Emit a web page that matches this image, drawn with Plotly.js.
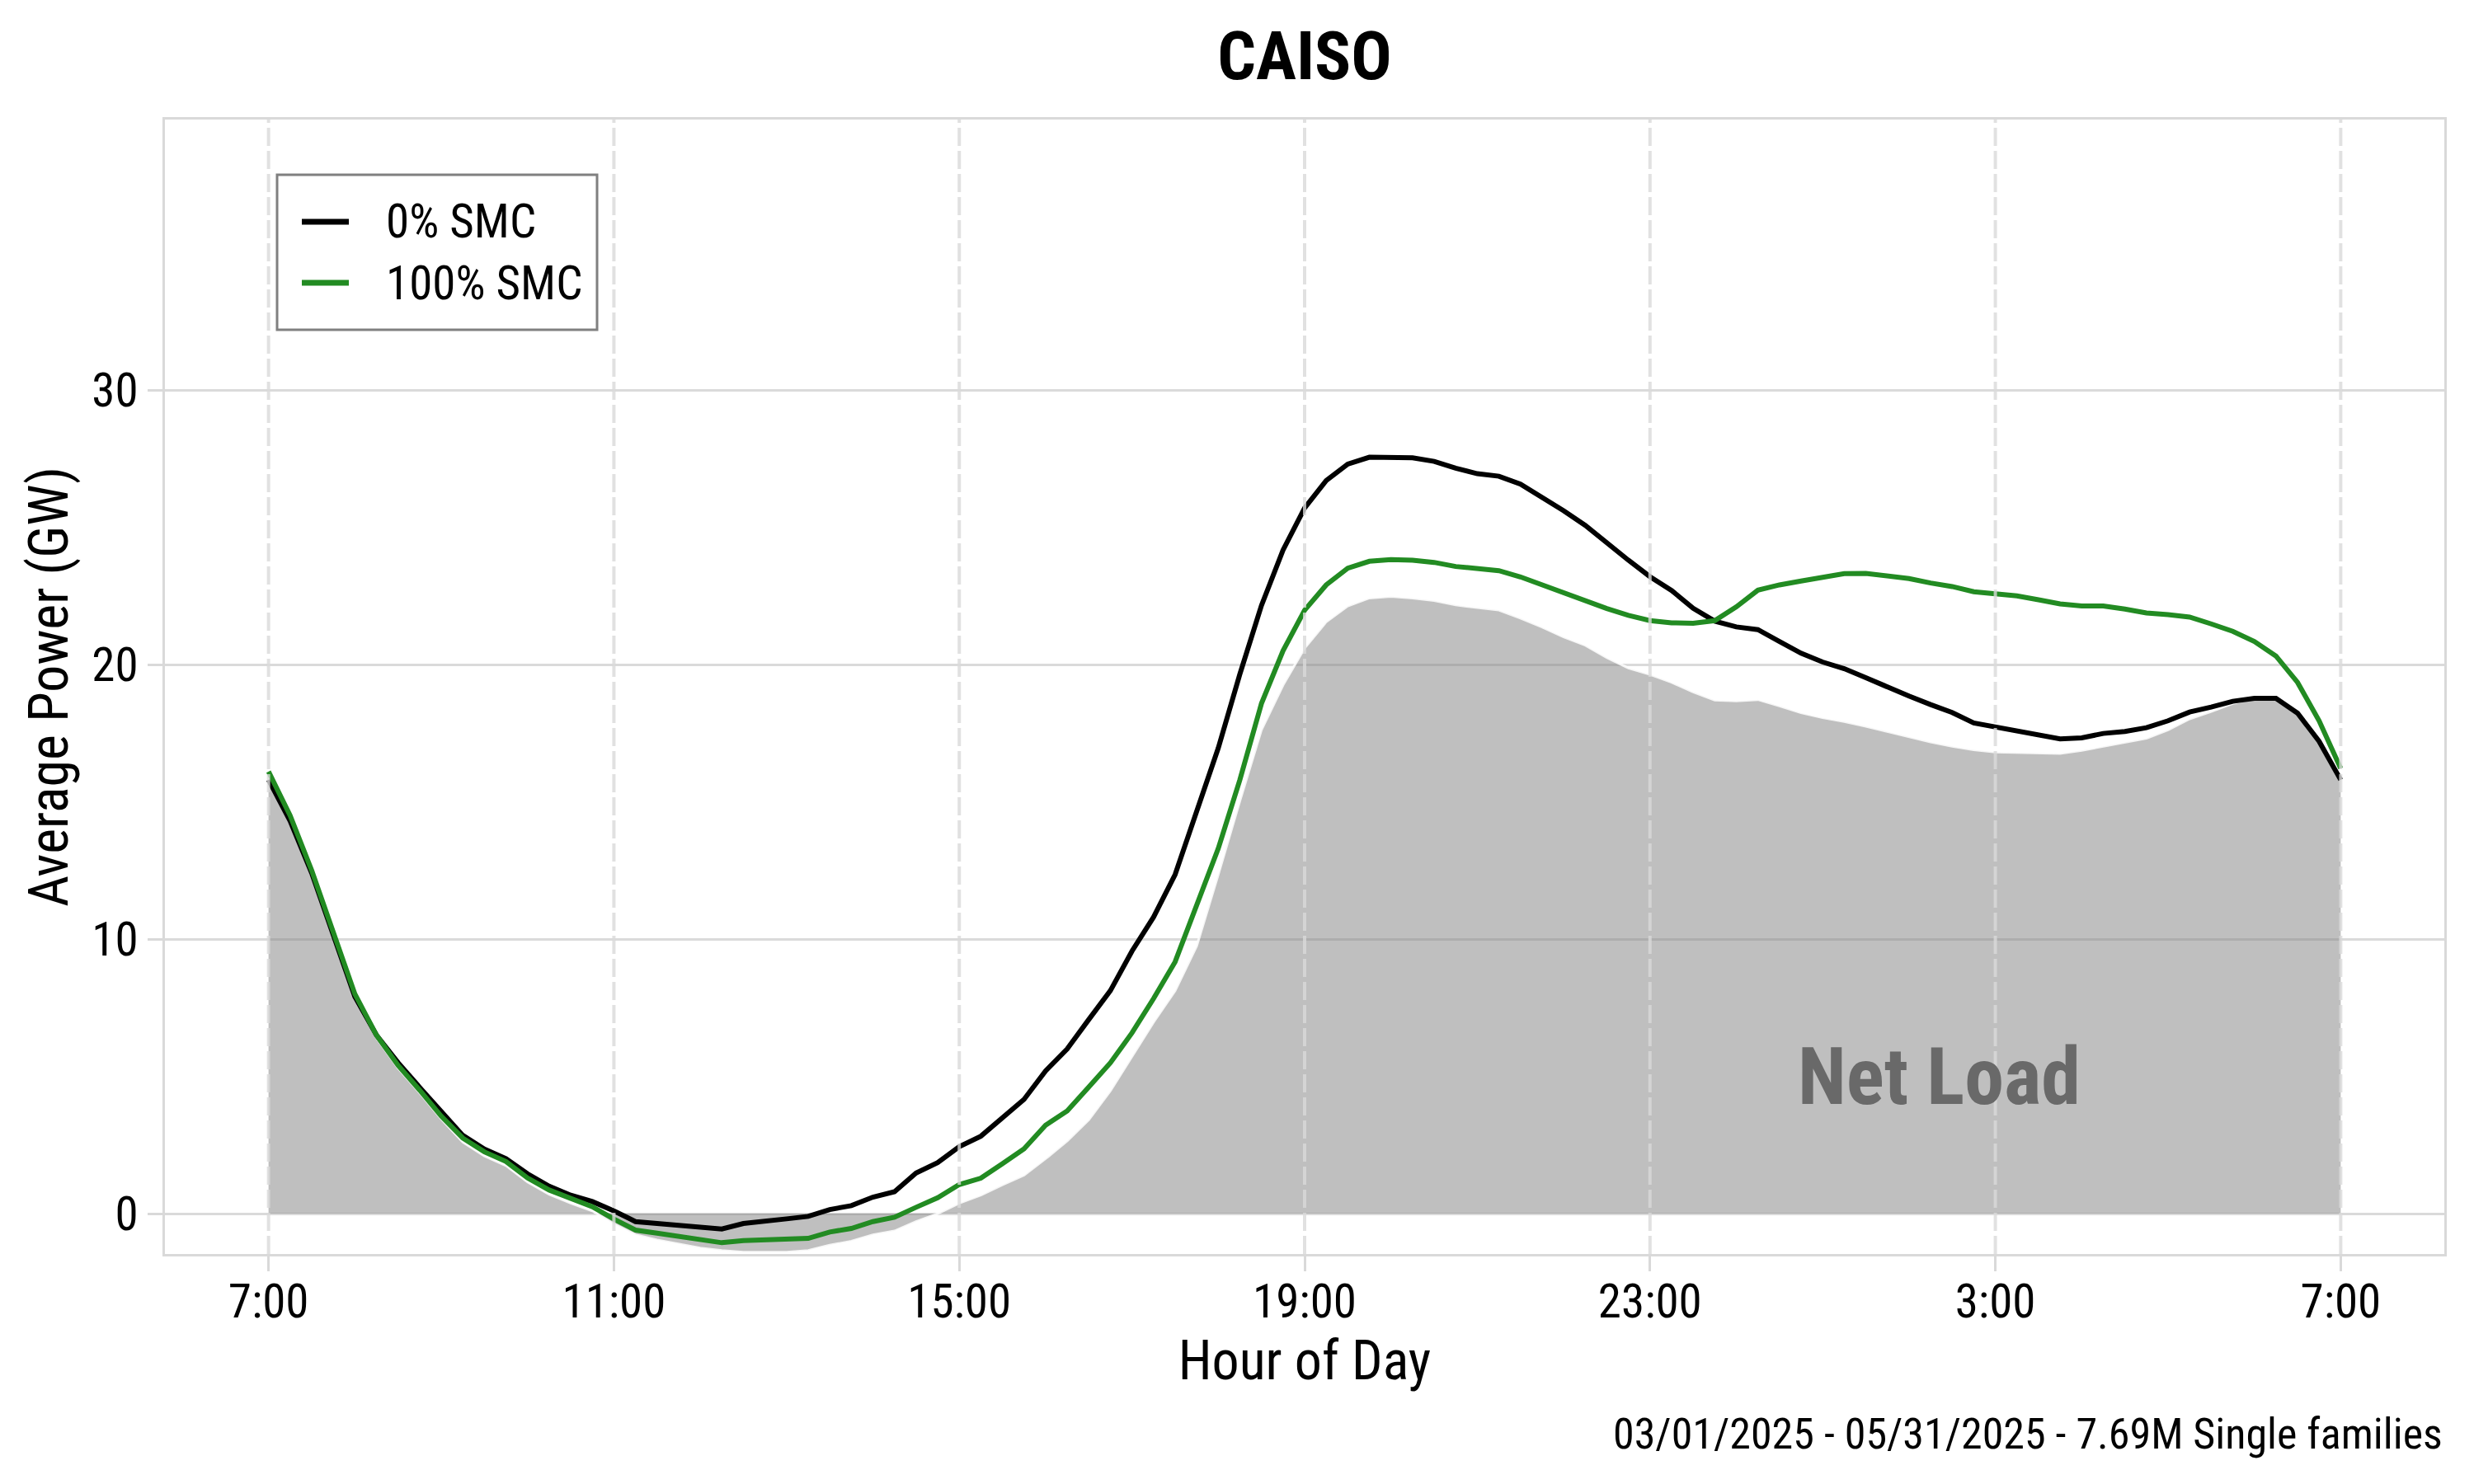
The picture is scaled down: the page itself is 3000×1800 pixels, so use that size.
<!DOCTYPE html>
<html>
<head>
<meta charset="utf-8">
<script src="https://cdn.plot.ly/plotly-3.0.1.min.js"></script>
<style>
  html, body { margin: 0; padding: 0; background: #ffffff; }
  #chart { width: 3000px; height: 1800px; }
</style>
</head>
<body>
<div id="chart"></div>
<script>
// Hour of day (15-minute steps, 7:00 through 7:00 next day, expressed as hours since midnight of day 1)
const hours = [
  7.00, 7.25, 7.50, 7.75, 8.00, 8.25, 8.50, 8.75, 9.00, 9.25, 9.50, 9.75,
  10.00, 10.25, 10.50, 10.75, 11.00, 11.25, 11.50, 11.75, 12.00, 12.25, 12.50, 12.75,
  13.00, 13.25, 13.50, 13.75, 14.00, 14.25, 14.50, 14.75, 15.00, 15.25, 15.50, 15.75,
  16.00, 16.25, 16.50, 16.75, 17.00, 17.25, 17.50, 17.75, 18.00, 18.25, 18.50, 18.75,
  19.00, 19.25, 19.50, 19.75, 20.00, 20.25, 20.50, 20.75, 21.00, 21.25, 21.50, 21.75,
  22.00, 22.25, 22.50, 22.75, 23.00, 23.25, 23.50, 23.75, 24.00, 24.25, 24.50, 24.75,
  25.00, 25.25, 25.50, 25.75, 26.00, 26.25, 26.50, 26.75, 27.00, 27.25, 27.50, 27.75,
  28.00, 28.25, 28.50, 28.75, 29.00, 29.25, 29.50, 29.75, 30.00, 30.25, 30.50, 30.75,
  31.00
];

// Net load (GW)
const netLoad = [
  15.8, 14.2, 12.3, 10.1, 7.8, 6.4, 5.3, 4.4, 3.45, 2.6, 2.1, 1.75,
  1.15, 0.7, 0.38, 0.1, -0.38, -0.77, -0.96, -1.1, -1.25, -1.34, -1.4, -1.4,
  -1.4, -1.34, -1.15, -1.0, -0.77, -0.63, -0.29, 0.0, 0.38, 0.67, 1.05, 1.4,
  2.0, 2.65, 3.42, 4.47, 5.72, 6.97, 8.12, 9.75, 12.35, 15.03, 17.62, 19.25,
  20.6, 21.55, 22.13, 22.42, 22.48, 22.42, 22.33, 22.17, 22.07, 21.98, 21.69, 21.36,
  21.0, 20.7, 20.25, 19.87, 19.64, 19.35, 19.0, 18.7, 18.67, 18.72, 18.49, 18.24,
  18.06, 17.92, 17.75, 17.56, 17.37, 17.18, 17.02, 16.89, 16.81, 16.79, 16.78, 16.76,
  16.87, 17.02, 17.18, 17.31, 17.62, 18.02, 18.29, 18.58, 18.77, 18.77, 18.23, 17.2,
  15.8
];

// 0% SMC (GW)
const smc0 = [
  15.8, 14.3, 12.4, 10.2, 7.9, 6.5, 5.5, 4.6, 3.7, 2.85, 2.35, 2.0,
  1.45, 1.0, 0.67, 0.44, 0.1, -0.29, -0.36, -0.44, -0.48, -0.56, -0.36, -0.29,
  -0.19, -0.1, 0.15, 0.29, 0.6, 0.8, 1.48, 1.86, 2.44, 2.82, 3.5, 4.16,
  5.2, 6.0, 7.07, 8.12, 9.56, 10.8, 12.35, 14.66, 16.96, 19.65, 22.15, 24.17,
  25.7, 26.7, 27.3, 27.55, 27.53, 27.53, 27.4, 27.15, 26.95, 26.86, 26.57, 26.09,
  25.6, 25.07, 24.42, 23.8, 23.2, 22.7, 22.05, 21.58, 21.37, 21.27, 20.84, 20.41,
  20.09, 19.85, 19.52, 19.17, 18.85, 18.54, 18.25, 17.87, 17.72, 17.56, 17.41, 17.29,
  17.33, 17.49, 17.56, 17.7, 17.95, 18.27, 18.45, 18.66, 18.77, 18.77, 18.23, 17.2,
  15.8
];

// 100% SMC (GW)
const smc100 = [
  16.1, 14.5, 12.5, 10.3, 8.0, 6.5, 5.4, 4.5, 3.55, 2.75, 2.25, 1.9,
  1.3, 0.86, 0.54, 0.25, -0.2, -0.6, -0.71, -0.83, -0.96, -1.06, -0.98, -0.94,
  -0.92, -0.9, -0.67, -0.54, -0.29, -0.13, 0.23, 0.58, 1.06, 1.29, 1.82, 2.36,
  3.22, 3.74, 4.61, 5.49, 6.58, 7.83, 9.17, 11.19, 13.3, 15.8, 18.58, 20.5,
  21.98, 22.9, 23.51, 23.76, 23.82, 23.8, 23.72, 23.57, 23.48, 23.42, 23.19, 22.9,
  22.58, 22.33, 22.04, 21.79, 21.6, 21.52, 21.5, 21.6, 22.1, 22.71, 22.9, 23.04,
  23.17, 23.31, 23.32, 23.24, 23.13, 22.97, 22.84, 22.65, 22.57, 22.5, 22.36, 22.21,
  22.13, 22.13, 22.02, 21.88, 21.82, 21.73, 21.48, 21.21, 20.84, 20.31, 19.35, 17.95,
  16.22
];

const xTickVals = [7, 11, 15, 19, 23, 27, 31];
const xTickText = ["7:00", "11:00", "15:00", "19:00", "23:00", "3:00", "7:00"];
const yTickVals = [0, 10, 20, 30];
const yTickText = ["0", "10", "20", "30"];

const seriesNames = ["0% SMC", "100% SMC"];
const seriesColors = ["#000000", "#228B22"];

const FONT = "'Roboto Condensed', 'Liberation Sans Narrow', 'DejaVu Sans Condensed', 'Noto Sans', sans-serif";

const traces = [
  {
    x: hours, y: netLoad, type: "scatter", mode: "lines",
    fill: "tozeroy", fillcolor: "rgba(128,128,128,0.5)",
    line: { color: "rgba(255,255,255,0.85)", width: 3 },
    showlegend: false, hoverinfo: "skip", name: "Net Load"
  },
  {
    x: hours, y: smc0, type: "scatter", mode: "lines", name: seriesNames[0],
    line: { color: seriesColors[0], width: 6 }, showlegend: false
  },
  {
    x: hours, y: smc100, type: "scatter", mode: "lines", name: seriesNames[1],
    line: { color: seriesColors[1], width: 6 }, showlegend: false
  }
];

// plot-area geometry in pixels (used only to place the legend box)
const PL = 200, PR = 2964, PT = 145, PB = 1521;
const px = v => (v - PL) / (PR - PL);
const py = v => 1 - (v - PT) / (PB - PT);

const shapes = xTickVals.map(v => ({
  type: "line", xref: "x", yref: "paper", x0: v, x1: v, y0: 0, y1: 1,
  layer: "above",
  line: { color: "rgba(218,218,218,0.8)", width: 4, dash: "22px,6px" }
}));

// legend box
shapes.push({
  type: "rect", xref: "paper", yref: "paper",
  x0: px(336), x1: px(724), y0: py(400), y1: py(212),
  fillcolor: "#ffffff", line: { color: "#808080", width: 3 }, layer: "above"
});
const legendRows = [269, 343];
const annotations = [];
seriesNames.forEach((name, i) => {
  shapes.push({
    type: "line", xref: "paper", yref: "paper",
    x0: px(366), x1: px(423), y0: py(legendRows[i]), y1: py(legendRows[i]),
    line: { color: seriesColors[i], width: 7 }, layer: "above"
  });
  annotations.push({
    text: name, xref: "paper", yref: "paper",
    x: px(466), y: py(legendRows[i]), xanchor: "left", yanchor: "middle",
    showarrow: false, font: { family: FONT, size: 57, color: "#000000" }
  });
});

annotations.push({
  text: "<b>Net Load</b>", x: 26.35, y: 5.0, xref: "x", yref: "y",
  showarrow: false, xanchor: "center", yanchor: "middle",
  font: { family: FONT, size: 96, color: "#696969" }
});
annotations.push({
  text: "03/01/2025 - 05/31/2025 - 7.69M Single families",
  x: 1, xref: "paper", xanchor: "right",
  y: (PB - 1739) / (PB - PT), yref: "paper", yanchor: "middle",
  showarrow: false,
  font: { family: FONT, size: 52, color: "#000000" }
});

const layout = {
  width: 3000, height: 1800,
  paper_bgcolor: "#ffffff", plot_bgcolor: "#ffffff",
  margin: { l: PL, r: 3000 - PR, t: PT, b: 1800 - PB },
  font: { family: FONT, color: "#000000", size: 50 },
  showlegend: false,
  title: {
    text: "<b>CAISO</b>",
    font: { family: FONT, size: 82, color: "#000000" },
    x: 0.5, xref: "paper", xanchor: "center",
    y: 1 - 67 / 1800, yref: "container", yanchor: "middle"
  },
  xaxis: {
    range: [5.8, 32.2],
    tickmode: "array", tickvals: xTickVals, ticktext: xTickText,
    showgrid: false, zeroline: false,
    ticks: "outside", ticklen: 18, tickwidth: 3, tickcolor: "#d9d9d9",
    ticklabelstandoff: -12,
    tickfont: { family: FONT, size: 57, color: "#000000" },
    showline: true, mirror: true, linecolor: "#d9d9d9", linewidth: 3,
    title: { text: "Hour of Day", font: { family: FONT, size: 66, color: "#000000" }, standoff: 14 }
  },
  yaxis: {
    range: [-1.47, 39.85],
    tickmode: "array", tickvals: yTickVals, ticktext: yTickText,
    showgrid: true, gridcolor: "#dadada", gridwidth: 3, zeroline: false,
    ticks: "outside", ticklen: 18, tickwidth: 3, tickcolor: "#d9d9d9",
    tickfont: { family: FONT, size: 57, color: "#000000" },
    showline: true, mirror: true, linecolor: "#d9d9d9", linewidth: 3,
    title: { text: "Average Power (GW)", font: { family: FONT, size: 66, color: "#000000" }, standoff: 8 }
  },
  shapes: shapes,
  annotations: annotations
};

Plotly.newPlot("chart", traces, layout, { displayModeBar: false, staticPlot: true });
</script>
</body>
</html>
